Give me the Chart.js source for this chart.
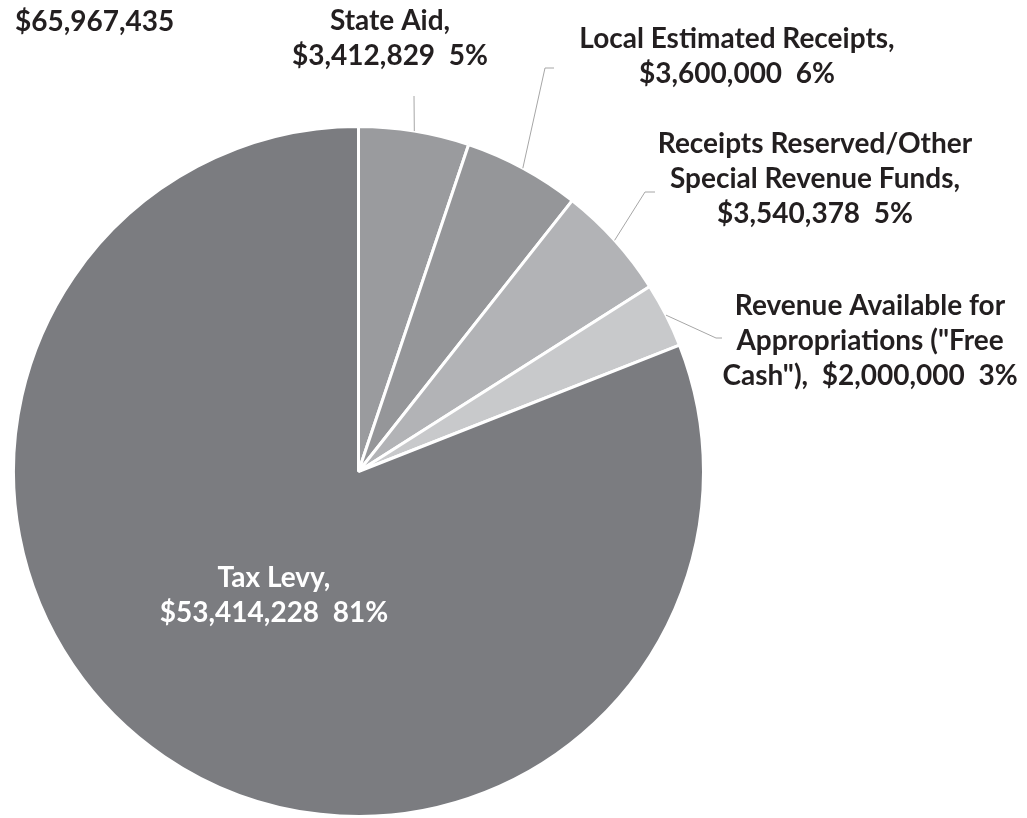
<!DOCTYPE html>
<html>
<head>
<meta charset="utf-8">
<script src="https://cdn.jsdelivr.net/npm/chart.js@4.4.1/dist/chart.umd.min.js"></script>
<style>
  html, body { margin: 0; padding: 0; background: #ffffff; }
  #wrap { width: 1027px; height: 818px; position: relative; }
</style>
</head>
<body>
<div id="wrap"><canvas id="c" width="1027" height="818"></canvas></div>
<script>
// ---- Data ----
const totalLabel = "$65,967,435";
const categories = [
  "State Aid",
  "Local Estimated Receipts",
  "Receipts Reserved/Other Special Revenue Funds",
  "Revenue Available for Appropriations (\"Free Cash\")",
  "Tax Levy"
];
const values = [3412829, 3600000, 3540378, 2000000, 53414228];
const percentLabels = ["5%", "6%", "5%", "3%", "81%"];
const labelLines = [
  ["State Aid,", "$3,412,829  5%"],
  ["Local Estimated Receipts,", "$3,600,000  6%"],
  ["Receipts Reserved/Other", "Special Revenue Funds,", "$3,540,378  5%"],
  ["Revenue Available for", "Appropriations (\"Free", "Cash\"),  $2,000,000  3%"],
  ["Tax Levy,", "$53,414,228  81%"]
];
const sliceColors = ["#9a9b9e", "#959699", "#b2b3b6", "#c8c9cb", "#7b7c80"];

// ---- Label layout (positions, not data) ----
const labelLayout = [
  { cx: 390, y0: 30, color: "#231f20", leader: [[414, 96]] },
  { cx: 737, y0: 48, color: "#231f20", leader: [[545, 68], [554, 68]] },
  { cx: 815, y0: 153, color: "#231f20", leader: [[645, 192], [655, 192]] },
  { cx: 870, y0: 315, color: "#231f20", leader: [[716, 338], [722, 338]] },
  { cx: 274, y0: 587, color: "#ffffff", leader: null }
];
const FONT = "bold 28px Lato";
const LINE_H = 35;

const labelPlugin = {
  id: "pieLabels",
  afterDatasetsDraw(chart) {
    const ctx = chart.ctx;
    const meta = chart.getDatasetMeta(0);
    ctx.save();
    meta.data.forEach((arc, i) => {
      const lay = labelLayout[i];
      if (!lay.leader) return;
      const mid = (arc.startAngle + arc.endAngle) / 2;
      const r = arc.outerRadius;
      const sx = arc.x + Math.cos(mid) * r;
      const sy = arc.y + Math.sin(mid) * r;
      ctx.beginPath();
      ctx.strokeStyle = "#a6a6a6";
      ctx.lineWidth = 1;
      ctx.moveTo(sx, sy);
      lay.leader.forEach(p => ctx.lineTo(p[0], p[1]));
      ctx.stroke();
    });
    ctx.font = FONT;
    ctx.textAlign = "center";
    ctx.textBaseline = "alphabetic";
    labelLines.forEach((lines, i) => {
      const lay = labelLayout[i];
      ctx.fillStyle = lay.color;
      lines.forEach((t, j) => ctx.fillText(t, lay.cx, lay.y0 + j * LINE_H));
    });
    ctx.textAlign = "left";
    ctx.fillStyle = "#231f20";
    ctx.fillText(totalLabel, 15, 31);
    ctx.restore();
  }
};

new Chart(document.getElementById("c"), {
  type: "pie",
  data: {
    labels: categories,
    datasets: [{
      data: values,
      backgroundColor: sliceColors,
      borderColor: "#ffffff",
      borderWidth: 3
    }]
  },
  options: {
    responsive: false,
    animation: false,
    layout: { padding: { left: 11, right: 321, top: 125, bottom: 0 } },
    plugins: { legend: { display: false }, tooltip: { enabled: false } }
  },
  plugins: [labelPlugin]
});
</script>
</body>
</html>
